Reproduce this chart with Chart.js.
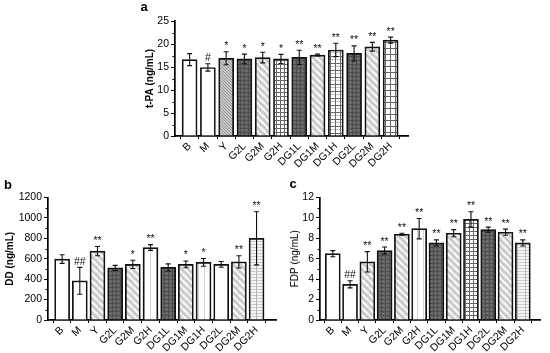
<!DOCTYPE html>
<html><head><meta charset="utf-8">
<script src="https://cdn.jsdelivr.net/npm/chart.js@4.4.1/dist/chart.umd.min.js"></script>
<style>
html,body{margin:0;padding:0;background:#fff;}
#wrap{position:relative;width:550px;height:353px;overflow:hidden;background:#fff;}
canvas{position:absolute;}
</style></head>
<body><div id="wrap">
<canvas id="ca" width="280" height="175" style="left:140px;top:0px"></canvas>
<canvas id="cb" width="290" height="178" style="left:0px;top:175px"></canvas>
<canvas id="cc" width="265" height="178" style="left:285px;top:175px"></canvas>
</div>
<script>
const categories = ['B','M','Y','G2L','G2M','G2H','DG1L','DG1M','DG1H','DG2L','DG2M','DG2H'];

const tpaMean = [16.6,14.9,16.9,16.75,17.05,16.75,17.1,17.6,18.7,17.95,19.4,20.85];
const tpaErr  = [1.3,0.8,1.4,1.05,1.15,1.0,1.55,0.2,1.45,1.65,0.95,0.65];
const tpaSig  = ['','#','*','*','*','*','**','**','**','**','**','**'];
const tpaTicks = [0,5,10,15,20,25];

const ddMean = [597,384,675,510,545,710,515,545,565,545,570,800];
const ddErr  = [42,132,45,25,40,28,35,33,38,28,60,260];
const ddSig  = ['','##','**','','*','**','','*','*','','**','**'];
const ddTicks = [0,200,400,600,800,1000,1200];

const fdpMean = [6.5,3.5,5.7,6.8,8.4,8.95,7.55,8.5,9.85,8.85,8.6,7.55];
const fdpErr  = [0.3,0.35,1.0,0.35,0.1,1.0,0.3,0.35,0.75,0.25,0.3,0.3];
const fdpSig  = ['','##','**','**','**','**','**','**','**','**','**','**'];
const fdpTicks = [0,2,4,6,8,10,12];

// fill styles per bar
const patA = ['white','white','dense','dark','diag','grid','dark','diag','hgrid','dark','diag','grid2'];
const patB = ['white','white','diag','dark','diag','vlines','dark','diag','vlines','white','diag','hlines'];
const patC = ['white','white','diag','dark','diag','vlines','dark','diag','grid','dark','diag','hlines'];

const FONT = '"Liberation Sans", Arial, sans-serif';

function makePattern(type){
  if (type === 'white') return '#ffffff';
  const c = document.createElement('canvas');
  const g = c.getContext('2d');
  const tile = (w,h,bg)=>{c.width=w;c.height=h;g.fillStyle=bg;g.fillRect(0,0,w,h);};
  if (type === 'dark'){
    tile(4,4,'#666666');
    g.fillStyle='#4e4e4e'; g.fillRect(0,0,4,1); g.fillRect(0,0,1,4);
    g.fillStyle='#7a7a7a'; g.fillRect(2,2,1,1);
  } else if (type === 'dense'){
    tile(3,3,'#c8c8c8');
    g.fillStyle='#959595'; g.fillRect(0,0,1,1); g.fillRect(1,1,1,1); g.fillRect(2,2,1,1);
  } else if (type === 'diag'){
    tile(7,7,'#c9c9c9');
    g.strokeStyle='#f6f6f6'; g.lineWidth=2.4;
    for (let k=-7;k<=7;k+=7){ g.beginPath(); g.moveTo(k,0); g.lineTo(k+7,7); g.stroke(); }
  } else if (type === 'grid'){
    tile(4,4,'#ffffff');
    g.fillStyle='#666'; g.fillRect(0,0,4,1); g.fillRect(0,0,1,4);
  } else if (type === 'grid2'){
    tile(5,6,'#ffffff');
    g.fillStyle='#666'; g.fillRect(0,0,5,1); g.fillRect(0,0,1,6);
  } else if (type === 'hgrid'){
    tile(5,7,'#ffffff');
    g.fillStyle='#c4c4c4'; g.fillRect(0,3,5,1);
    g.fillStyle='#666'; g.fillRect(0,0,5,1); g.fillRect(0,0,1,7);
  } else if (type === 'vlines'){
    tile(6,6,'#ffffff');
    g.fillStyle='#d4d4d4'; g.fillRect(0,0,1,6);
  } else if (type === 'hlines'){
    tile(8,3,'#f4f4f4');
    g.fillStyle='#cccccc'; g.fillRect(0,0,8,1);
    g.fillStyle='#b4b4b4'; g.fillRect(0,0,1,3);
  }
  return g.createPattern(c,'repeat');
}

function extras(mean, err, sig, letter, minorStep){
  return {
    id:'extras',
    afterDatasetsDraw(chart){
      const ctx = chart.ctx, meta = chart.getDatasetMeta(0), ys = chart.scales.y;
      ctx.save();
      meta.data.forEach((bar,i)=>{
        const yt = ys.getPixelForValue(mean[i]+err[i]);
        const yb = ys.getPixelForValue(mean[i]-err[i]);
        ctx.strokeStyle='#111'; ctx.lineWidth=1.1;
        ctx.beginPath();
        ctx.moveTo(bar.x, yt); ctx.lineTo(bar.x, yb);
        ctx.moveTo(bar.x-2.5, yt); ctx.lineTo(bar.x+2.5, yt);
        ctx.moveTo(bar.x-2.5, yb); ctx.lineTo(bar.x+2.5, yb);
        ctx.stroke();
        if (sig[i]){
          ctx.fillStyle='#111'; ctx.font='10.5px '+FONT;
          ctx.textAlign='center'; ctx.textBaseline='alphabetic';
          ctx.fillText(sig[i], bar.x, yt-2.5);
        }
      });
      // minor y ticks
      const x0 = ys.right;
      ctx.strokeStyle='#000'; ctx.lineWidth=1;
      ctx.beginPath();
      for (let v = ys.min + minorStep; v < ys.max; v += minorStep*2){
        const y = Math.round(ys.getPixelForValue(v))+0.5;
        ctx.moveTo(x0, y); ctx.lineTo(x0-2.5, y);
      }
      ctx.stroke();
      ctx.restore();
    },
    afterDraw(chart){
      const ctx = chart.ctx;
      ctx.save();
      ctx.fillStyle='#000'; ctx.font='bold 13px '+FONT;
      ctx.textAlign='center'; ctx.textBaseline='middle';
      ctx.fillText(letter.text, letter.x, letter.y);
      ctx.restore();
    }
  };
}

function build(id, mean, err, sig, ticks, pats, cfg){
  const ctx = document.getElementById(id).getContext('2d');
  const fills = pats.map(makePattern);
  const step = ticks[1]-ticks[0];
  return new Chart(ctx, {
    type:'bar',
    data:{ datasets:[{
      data: mean.map((v,i)=>({x:i, y:v})),
      backgroundColor: fills,
      borderColor:'#111',
      borderWidth:1.7,
      barThickness:15
    }]},
    options:{
      responsive:false, animation:false, devicePixelRatio:1,
      layout:{ padding:{ top:cfg.padTop, right:cfg.padRight, left:0, bottom:0 } },
      plugins:{ legend:{display:false}, tooltip:{enabled:false} },
      scales:{
        x:{
          type:'linear', min:cfg.xmin, max:cfg.xmax, offset:false,
          grid:{ display:true, drawOnChartArea:false, drawTicks:true, tickLength:3, color:'#000', lineWidth:1 },
          border:{ display:true, color:'#000', width:1.7 },
          ticks:{ stepSize:1, includeBounds:false, autoSkip:false, minRotation:45, maxRotation:45,
                  padding:1, color:'#000', font:{ size:10.5, family:FONT },
                  callback:(v)=> categories[v] !== undefined ? categories[v] : '' },
          afterFit:(s)=>{ s.height = cfg.xh; }
        },
        y:{
          min:ticks[0], max:ticks[ticks.length-1],
          grid:{ display:true, drawOnChartArea:false, drawTicks:true, tickLength:4, color:'#000', lineWidth:1 },
          border:{ display:true, color:'#000', width:1.7 },
          ticks:{ stepSize:step, padding:2, color:'#000', font:{ size:10.5, family:FONT },
                  callback:(v)=> String(v) },
          title:{ display:true, text:cfg.title, color:'#000',
                  font:{ size:10, family:FONT, weight:cfg.titleWeight }, padding:{top:4,bottom:0} },
          afterFit:(s)=>{ s.width = cfg.yw; }
        }
      }
    },
    plugins:[ extras(mean, err, sig, cfg.letter, step/2) ]
  });
}

build('ca', tpaMean, tpaErr, tpaSig, tpaTicks, patA, {
  padTop:21, padRight:12, xh:39, yw:35, xmin:-0.8, xmax:11.95,
  title:'t-PA (ng/mL)', titleWeight:'bold', letter:{text:'a', x:4, y:7}
});
build('cb', ddMean, ddErr, ddSig, ddTicks, patB, {
  padTop:22.5, padRight:14, xh:33, yw:48, xmin:-0.8, xmax:12.1,
  title:'DD (ng/mL)', titleWeight:'bold', letter:{text:'b', x:8, y:10}
});
build('cc', fdpMean, fdpErr, fdpSig, fdpTicks, patC, {
  padTop:22.5, padRight:6, xh:33, yw:35, xmin:-0.74, xmax:12.0,
  title:'FDP (ng/mL)', titleWeight:'normal', letter:{text:'c', x:8, y:9}
});
</script>
</body></html>
